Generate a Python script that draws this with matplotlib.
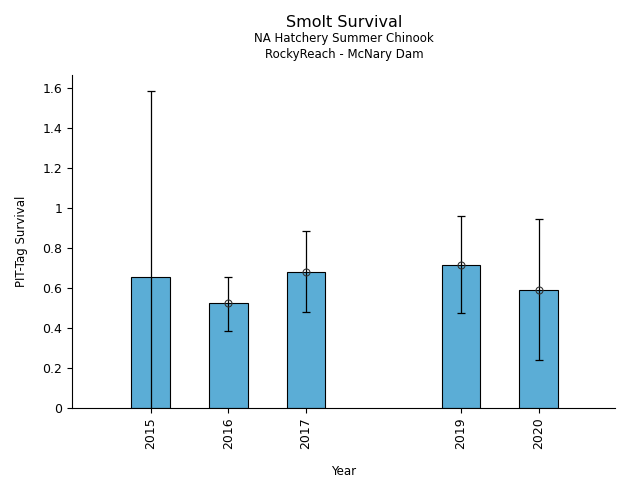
import numpy as np
import matplotlib
matplotlib.use("Agg")
import matplotlib.pyplot as plt

years = [2015, 2016, 2017, 2019, 2020]
survival = [0.657, 0.523, 0.678, 0.713, 0.588]
upper = [1.583, 0.657, 0.883, 0.960, 0.943]
lower = [-0.27, 0.383, 0.478, 0.473, 0.238]
show_marker = [False, True, True, True, True]
yticks = [0, 0.2, 0.4, 0.6, 0.8, 1.0, 1.2, 1.4, 1.6]

fig = plt.figure(figsize=(6.4, 4.8), dpi=100)
ax = fig.add_axes([0.1125, 0.15, 0.8485, 0.694])

x = np.array(years)
s = np.array(survival)
ax.bar(x, s, width=0.5, color="#5BADD6", edgecolor="black", linewidth=0.8, zorder=2)

yerr = np.vstack([s - np.array(lower), np.array(upper) - s])
ax.errorbar(x, s, yerr=yerr, fmt="none", ecolor="black", elinewidth=0.9,
            capsize=3, capthick=0.9, zorder=3)
mk = np.array(show_marker)
ax.plot(x[mk], s[mk], "o", mfc="none", mec="#333333", ms=5, mew=0.8, zorder=4)

ax.set_xlim(2013.985, 2020.985)
ax.set_ylim(0, 1.665)
ax.set_xticks(years)
ax.set_xticklabels([str(y) for y in years], rotation=90, fontsize=9)
ax.set_yticks(yticks)
ax.set_yticklabels([f"{v:g}" for v in yticks], fontsize=9)
ax.spines["top"].set_visible(False)
ax.spines["right"].set_visible(False)
ax.set_xlabel("Year", fontsize=8.5, labelpad=11)
ax.set_ylabel("PIT-Tag Survival", fontsize=8.5, labelpad=10)

fig.text(0.5375, 0.953, "Smolt Survival", ha="center", va="center", fontsize=11.5)
fig.text(0.5375, 0.919, "NA Hatchery Summer Chinook", ha="center", va="center", fontsize=8.5)
fig.text(0.5375, 0.887, "RockyReach - McNary Dam", ha="center", va="center", fontsize=8.5)

fig.savefig("out.png", dpi=100)
